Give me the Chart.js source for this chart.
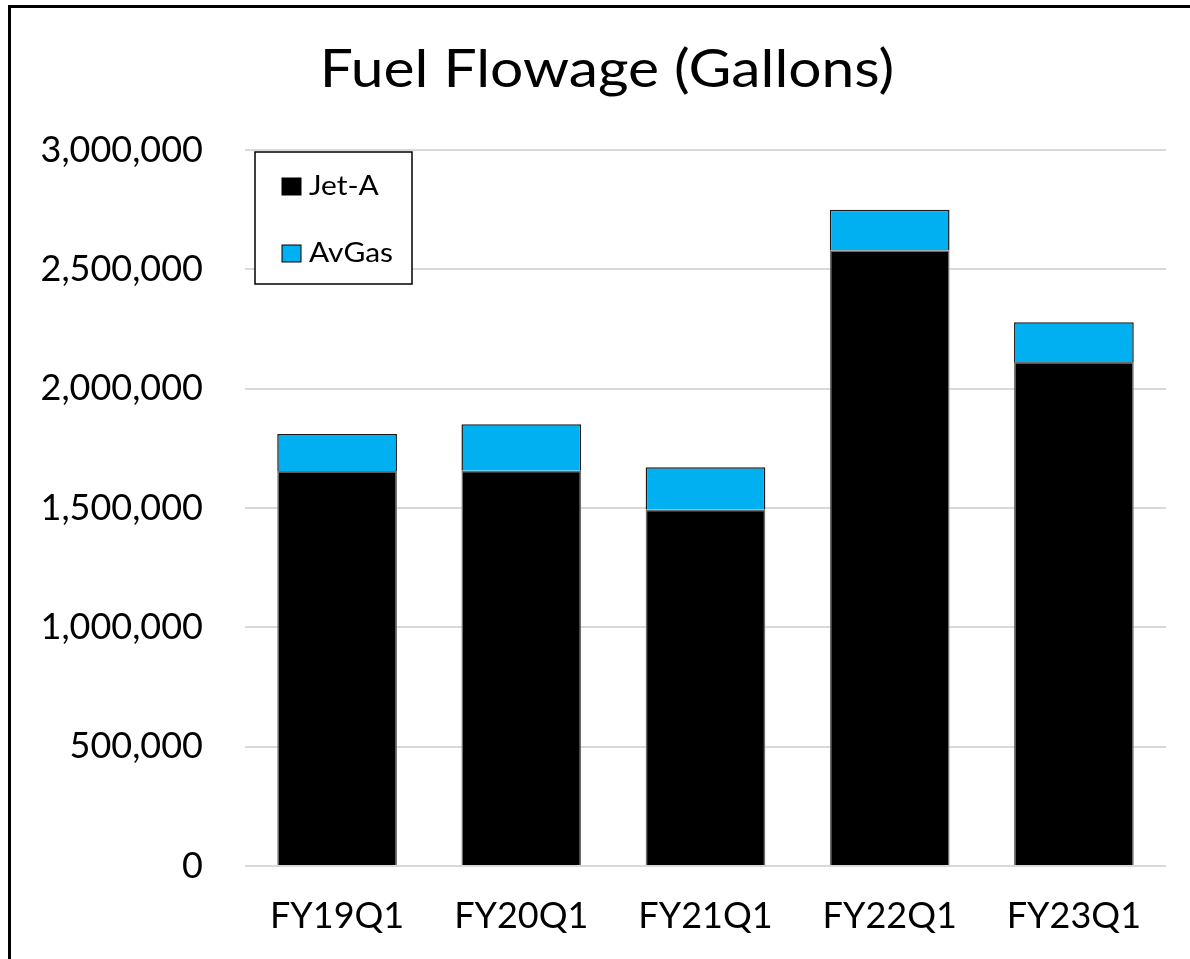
<!DOCTYPE html>
<html lang="en">
<head>
  <meta charset="UTF-8">
  <title>Fuel Flowage</title>
  <script src="https://cdn.jsdelivr.net/npm/chart.js@4.4.1/dist/chart.umd.min.js"></script>
  <style>
    body {
      margin: 0;
      background-color: #fff;
      overflow: hidden;
    }
    #wrap {
      position: relative;
      width: 1190px;
      height: 959px;
    }
    #frame {
      position: absolute;
      left: 8px;
      top: 5px;
      width: 1300px;
      height: 1100px;
      border-left: 3px solid #000;
      border-top: 3px solid #000;
      pointer-events: none;
    }
  </style>
</head>
<body>
  <div id="wrap">
    <canvas id="fuelChart" width="1190" height="959"></canvas>
    <div id="frame"></div>
  </div>

  <script>
    const quarters = ['FY19Q1', 'FY20Q1', 'FY21Q1', 'FY22Q1', 'FY23Q1'];
    const jetA = [1655000, 1656000, 1493000, 2580000, 2112000];
    const avGas = [155000, 195000, 178000, 170000, 166000];
    const yTicks = [0, 500000, 1000000, 1500000, 2000000, 2500000, 3000000];
    const chartTitle = 'Fuel Flowage (Gallons)';

    const FONT = 'Lato, "Noto Sans", sans-serif';

    // the source picture is a bit wider than tall, so stretch text slightly
    function wideText(ctx, text, x, y, sx) {
      ctx.save();
      ctx.translate(x, y);
      ctx.scale(sx, 1);
      ctx.fillText(text, 0, 0);
      ctx.restore();
    }

    // title is centred over the whole frame, not over the plot
    const frameTitle = {
      id: 'frameTitle',
      afterDraw(chart) {
        const ctx = chart.ctx;
        ctx.save();
        ctx.font = '52px ' + FONT;
        ctx.fillStyle = '#000';
        ctx.textAlign = 'center';
        ctx.textBaseline = 'alphabetic';
        wideText(ctx, chartTitle, 607, 87, 1.13);
        ctx.restore();
      }
    };

    // legend drawn by hand: framed box in upper left of plot
    const boxLegend = {
      id: 'boxLegend',
      afterDraw(chart) {
        const ctx = chart.ctx;
        ctx.save();
        ctx.strokeStyle = '#000';
        ctx.lineWidth = 1.5;
        ctx.fillStyle = '#fff';
        ctx.fillRect(255, 152, 157, 132);
        ctx.strokeRect(255, 152, 157, 132);
        ctx.font = '26px ' + FONT;
        ctx.textBaseline = 'middle';
        ctx.textAlign = 'left';
        const rows = [186, 253];
        chart.data.datasets.forEach((ds, i) => {
          const y = rows[i];
          ctx.fillStyle = ds.backgroundColor;
          ctx.fillRect(282, y - 8, 19, 17);
          ctx.lineWidth = 1;
          ctx.strokeStyle = '#000';
          ctx.strokeRect(282, y - 8, 19, 17);
          ctx.fillStyle = '#000';
          wideText(ctx, ds.label, 309, y + 1, 1.15);
        });
        ctx.restore();
      }
    };

    const ctx = document.getElementById('fuelChart').getContext('2d');
    new Chart(ctx, {
      type: 'bar',
      data: {
        labels: quarters,
        datasets: [
          {
            label: 'Jet-A',
            data: jetA,
            backgroundColor: '#000000',
            borderColor: '#6e6e6e',
            borderWidth: 1.5,
            categoryPercentage: 0.65,
            barPercentage: 1
          },
          {
            label: 'AvGas',
            data: avGas,
            backgroundColor: '#00B0F0',
            borderColor: '#1a1a1a',
            borderWidth: 1.5,
            categoryPercentage: 0.65,
            barPercentage: 1
          }
        ]
      },
      options: {
        responsive: false,
        animation: false,
        layout: { padding: { left: 20, right: 24, top: 150, bottom: 21 } },
        plugins: {
          legend: { display: false },
          tooltip: { enabled: false },
          title: { display: false }
        },
        scales: {
          x: {
            stacked: true,
            afterFit(scale) {
              scale.height = 72;
            },
            grid: { display: false, drawTicks: false },
            border: { display: false },
            ticks: {
              color: '#000',
              font: { family: FONT, size: 36 },
              padding: 29
            }
          },
          y: {
            stacked: true,
            min: 0,
            max: 3000000,
            afterBuildTicks(scale) {
              scale.ticks = yTicks.map(v => ({ value: v }));
            },
            afterFit(scale) {
              scale.width = 225;
              scale.paddingTop = 22;
              scale.paddingBottom = 22;
            },
            grid: { color: '#d9d9d9', lineWidth: 2, drawTicks: false },
            border: { display: false },
            ticks: {
              color: '#000',
              font: { family: FONT, size: 36 },
              padding: 42,
              callback: v => v.toLocaleString('en-US')
            }
          }
        }
      },
      plugins: [boxLegend, frameTitle]
    });
  </script>
</body>
</html>
